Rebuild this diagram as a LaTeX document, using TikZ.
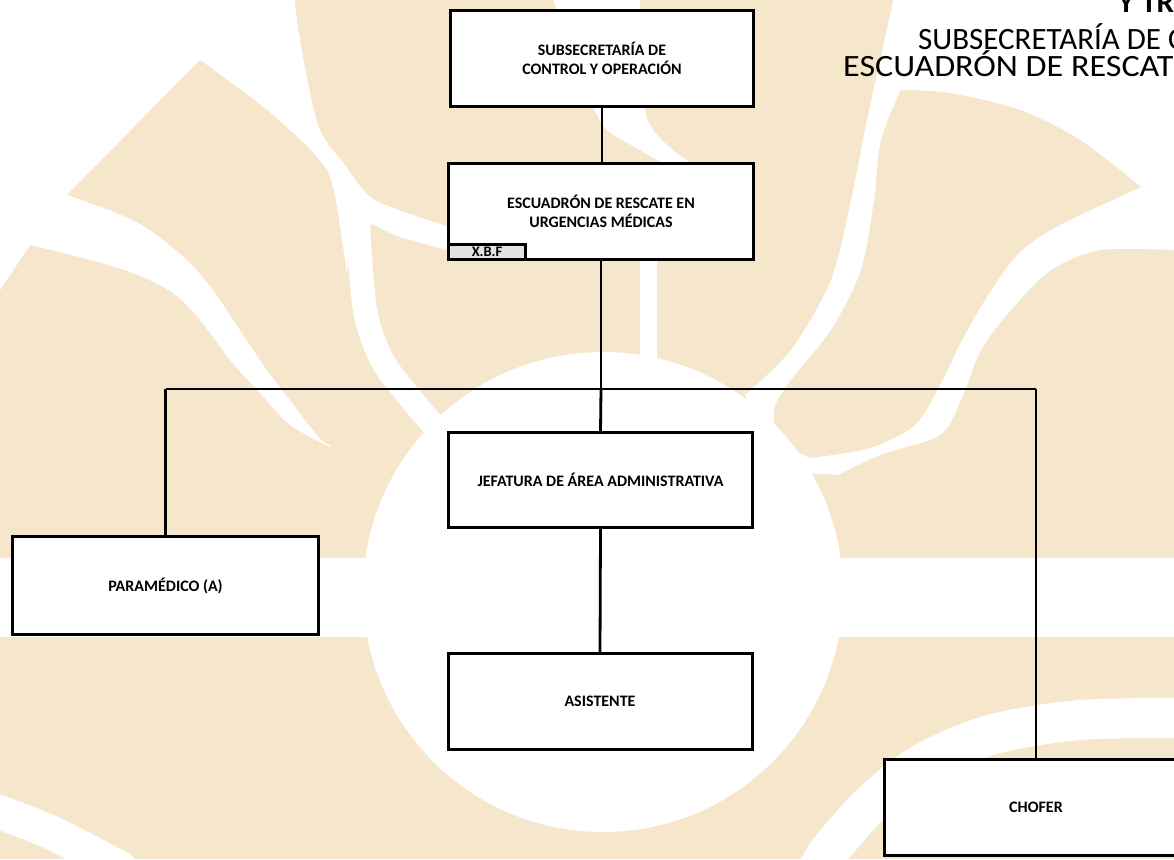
\documentclass[tikz,border=0pt]{standalone}
\usepackage{fontspec}
\setmainfont{Carlito}
\newfontfamily\titlewide{Carlito}[FakeStretch=1.1]
\definecolor{cream}{RGB}{246,230,204}
\definecolor{tagfill}{RGB}{226,226,226}
\begin{document}
\begin{tikzpicture}[x=1pt,y=-1pt,
  box/.style={draw=black,line width=3pt,fill=white,rectangle,align=center,inner sep=0pt,font=\bfseries\fontsize{16}{19}\selectfont},
  tagbox/.style={draw=black,line width=3pt,fill=tagfill,rectangle,inner sep=0pt,minimum width=77pt,minimum height=15pt,font=\bfseries\fontsize{14.5}{16}\selectfont},
  conn/.style={line width=2.8pt,black},
  titletext/.style={anchor=base west,inner sep=0pt,font=\fontsize{31}{36}\selectfont},
  stripe/.style={draw=white,line width=#1,line cap=round}]
\useasboundingbox (0,0) rectangle (1174,859);
\clip (0,0) rectangle (1174,859);
% ---------- watermark ----------
\fill[cream] (0,0) rectangle (1174,859);
% top-left white region
\fill[white] (0,0) -- plot[smooth] coordinates {(295,0) (300,40) (318,125) (345,165) (375,200) (447,226)}
  -- (447,250) -- plot[smooth] coordinates {(447,250) (400,237) (372,224)} -- (350,245)
  -- plot[smooth] coordinates {(330,447) (290,425) (260,393) (230,360) (200,320) (173,293) (133,273) (83,258) (30,245)}
  -- (0,290) -- cycle;
% petal A
\fill[cream] (67,195) -- (200,60)
  -- plot[smooth] coordinates {(200,60) (267,110) (317,157) (333,187) (345,260) (353,310) (370,360) (400,400) (425,430) (445,455)}
  -- plot[smooth] coordinates {(445,455) (380,452) (330,445) (313,430) (290,400) (267,370) (240,330) (213,290) (187,260) (150,230) (117,213) (67,195)}
  -- cycle;
% stripe between petal A and petal C
\draw[stripe=24] plot[smooth] coordinates {(358,225) (365,310) (382,360) (412,400) (440,432) (470,458)};
% top centre stripe
\fill[white] plot[smooth] coordinates {(553,-2) (570,50) (590,100) (607,130) (640,150) (675,170)}
  -- plot[smooth] coordinates {(700,170) (667,145) (647,118) (640,60) (640,-2)} -- cycle;
\fill[white] (640,255) rectangle (657,370);
% top-right white region with S stripe
\fill[white] (894,-2) -- (1176,-2) -- (1176,250)
  -- plot[smooth] coordinates {(1174,250) (1101,250) (1051,270) (1011,310) (981,350) (961,400) (940,435) (880,455) (838,475)}
  -- (760,470) -- (745,395)
  -- plot[smooth] coordinates {(745,395) (791,350) (831,280) (851,200) (867,120) (894,-2)} -- cycle;
% petal D
\fill[cream] plot[smooth] coordinates {(901,90) (950,93) (1020,110) (1080,140) (1141,187)}
  -- plot[smooth] coordinates {(1141,187) (1060,225) (1020,252) (990,292) (962,340) (940,385) (915,425) (870,448) (810,458)}
  -- plot[smooth] coordinates {(810,458) (780,440) (774,410) (791,380) (831,330) (861,270) (874,200) (881,140) (901,90)} -- cycle;
% central disc and band
\fill[white] (603,592) circle[radius=240pt];
\fill[white] (-2,558) rectangle (1176,637);
% lower arcs
\draw[stripe=40] plot[smooth] coordinates {(1190,718) (1080,720) (990,735) (920,765) (870,805) (830,850) (815,875)};
\draw[stripe=34] plot[smooth] coordinates {(-20,805) (50,832) (120,868)};
% ---------- title ----------
\node[titletext,font=\bfseries\fontsize{31}{36}\selectfont] (t1) at (1118,13) {Y TRA};
\node[titletext] (t2) at (918,49) {SUBSECRETARÍA DE C};
\node[titletext,font=\titlewide\fontsize{31}{36}\selectfont] (t3) at (843,77) {ESCUADRÓN DE RESCAT};
% ---------- boxes ----------
\node[box,minimum width=303pt,minimum height=96pt] (sub) at (602,58.5) {SUBSECRETARÍA DE\\CONTROL Y OPERACIÓN};
\node[box,minimum width=305pt,minimum height=96pt] (esc) at (601,211.5) {ESCUADRÓN DE RESCATE EN\\URGENCIAS MÉDICAS};
\node[tagbox,anchor=south west] (xbf) at (esc.south west) {X.B.F};
\node[box,minimum width=304pt,minimum height=95pt] (jef) at (600.5,480) {JEFATURA DE ÁREA ADMINISTRATIVA};
\node[box,minimum width=304pt,minimum height=96pt] (asis) at (600,701.5) {ASISTENTE};
\node[box,minimum width=306pt,minimum height=98pt] (para) at (165.5,585.5) {PARAMÉDICO (A)};
\node[box,minimum width=304pt,minimum height=96pt] (chof) at (1036,807.5) {CHOFER};
% ---------- connectors ----------
\coordinate (bus) at (601,389);
\coordinate (busL) at (165.5,389);
\coordinate (busR) at (1036,389);
\draw[conn] (sub.south) -- (sub.south |- esc.north);
\draw[conn] (esc.south) -- (bus);
\draw[conn] (bus) -- (jef.north);
\draw[conn] (busL) -- (busR);
\draw[conn] (busL) -- (para.north);
\draw[conn] (busR) -- (chof.north);
\draw[conn] (jef.south) -- (asis.north);
\end{tikzpicture}
\end{document}
